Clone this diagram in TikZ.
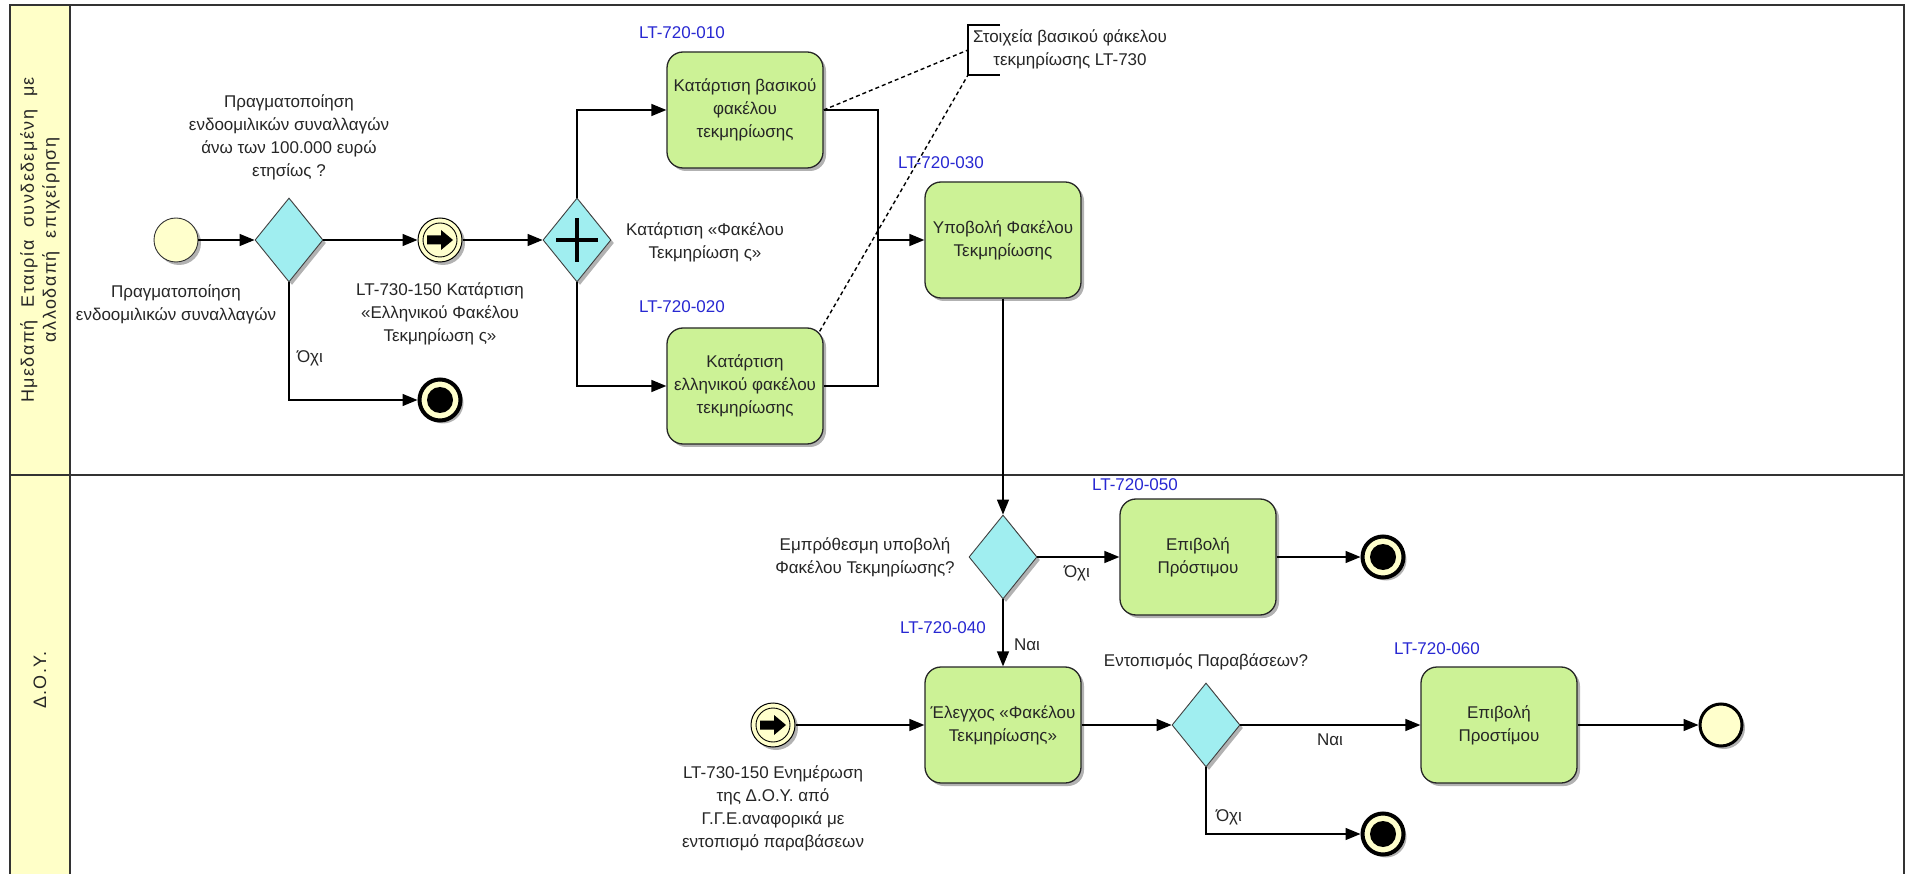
\documentclass[tikz,border=0pt]{standalone}
\usepackage{fontspec}
\setmainfont{Liberation Sans}
\usetikzlibrary{shapes.geometric,arrows.meta,shadows}
\definecolor{lanefill}{RGB}{255,255,200}
\definecolor{evfill}{RGB}{255,255,204}
\definecolor{gwfill}{RGB}{160,238,240}
\definecolor{taskfill}{RGB}{204,242,150}
\definecolor{codeblue}{RGB}{40,40,210}
\begin{document}
\begin{tikzpicture}[x=1pt,y=-1pt,
  font=\fontsize{17}{23}\selectfont,
  shadowed/.style={drop shadow={shadow xshift=3pt,shadow yshift=-3pt,opacity=0.3,fill=black}},
  task/.style={rectangle, rounded corners=16pt, draw=black!85, line width=1.3pt, fill=taskfill,
    minimum width=156pt, minimum height=116pt, align=center, inner sep=2pt, text=black!85, shadowed},
  gw/.style={diamond, draw=black!75, line width=0.9pt, fill=gwfill, minimum width=68pt,
    minimum height=84pt, inner sep=0pt, shadowed},
  startev/.style={circle, draw=black!80, line width=0.9pt, fill=evfill, minimum size=44pt,
    inner sep=0pt, shadowed},
  endev/.style={circle, draw=black, line width=4pt, fill=evfill, minimum size=41pt, inner sep=0pt,
    shadowed, path picture={\fill[black] (path picture bounding box.center) circle[radius=13pt];}},
  finalev/.style={circle, draw=black, line width=3pt, fill=evfill, minimum size=42pt, inner sep=0pt, shadowed},
  linkev/.style={circle, draw=black, line width=1pt, fill=evfill, minimum size=44pt, inner sep=0pt, shadowed,
    path picture={
      \draw[black, line width=0.9pt] (path picture bounding box.center) circle[radius=17pt];
      \fill[black, shift={(path picture bounding box.center)}]
        (-13pt,-4.5pt) -- (1pt,-4.5pt) -- (1pt,-10pt) -- (13pt,0pt) -- (1pt,10pt) -- (1pt,4.5pt) -- (-13pt,4.5pt) -- cycle;}},
  plusgw/.style={gw, path picture={\draw[black, line width=4.5pt, shift={(path picture bounding box.center)}]
      (-21pt,0pt) -- (21pt,0pt) (0pt,-22pt) -- (0pt,22pt);}},
  flow/.style={draw=black, line width=1.4pt, -{Triangle[length=15pt,width=12pt]}},
  plain/.style={draw=black, line width=1.4pt},
  assoc/.style={draw=black, line width=1.4pt, dash pattern=on 4pt off 3pt},
  code/.style={text=codeblue, inner sep=0pt},
  lbl/.style={align=center, inner sep=0pt, text=black!85},
  lanelbl/.style={rotate=90, align=center, inner sep=0pt, text=black!85,
    font=\fontsize{18}{22}\selectfont\addfontfeature{LetterSpace=8}},
]
\useasboundingbox (0,0) rectangle (1907,874);
\fill[white] (0,0) rectangle (1907,874);

% pools and lanes
\fill[lanefill] (10,5) rectangle (70,880);
\draw[line width=1.5pt, draw=black!80] (10,5) rectangle (1904,880);
\draw[line width=1.5pt, draw=black!80] (70,5) -- (70,880);
\draw[line width=1.5pt, draw=black!80] (10,475) -- (1904,475);
\node[lanelbl] (lane1) at (40,240) {Ημεδαπή\ \ Εταιρία\ \ συνδεδεμένη\ \ με\\αλλοδαπή\ \ επιχείρηση};
\node[lanelbl] (lane2) at (40,680) {Δ.Ο.Υ.};

% top lane
\node[startev] (S) at (176,240) {};
\node[gw] (G1) at (289,240) {};
\node[linkev] (L1) at (440,240) {};
\node[endev] (E1) at (440,400) {};
\node[plusgw] (PG) at (577,240) {};
\node[task] (T1) at (745,110) {Κατάρτιση βασικού\\φακέλου\\τεκμηρίωσης};
\node[task] (T2) at (745,386) {Κατάρτιση\\ελληνικού φακέλου\\τεκμηρίωσης};
\node[task] (T3) at (1003,240) {Υποβολή Φακέλου\\Τεκμηρίωσης};
\coordinate (M) at (878,240);

% bottom lane
\node[gw] (G2) at (1003,557) {};
\node[task] (T5) at (1198,557) {Επιβολή\\Πρόστιμου};
\node[endev] (E2) at (1383,557) {};
\node[linkev] (L2) at (773,725) {};
\node[task] (T4) at (1003,725) {Έλεγχος «Φακέλου\\Τεκμηρίωσης»};
\node[gw] (G3) at (1206,725) {};
\node[task] (T6) at (1499,725) {Επιβολή\\Προστίμου};
\node[finalev] (E4) at (1721,725) {};
\node[endev] (E3) at (1383,834) {};

% annotation
\coordinate (Amid) at (968,50);
\coordinate (Abot) at (968,75);
\draw[plain] (1000,25) -- (968,25) -- (968,75) -- (1000,75);
\node[lbl] (A) at (1070,49) {Στοιχεία βασικού φάκελου\\τεκμηρίωσης LT-730};

% sequence flows
\draw[flow] (S) -- (G1);
\draw[flow] (G1) -- (L1);
\draw[flow] (G1.south) |- (E1);
\draw[flow] (L1) -- (PG);
\draw[flow] (PG.north) |- (T1);
\draw[flow] (PG.south) |- (T2);
\draw[plain] (T1.east) -| (M);
\draw[plain] (T2.east) -| (M);
\draw[flow] (M) -- (T3);
\draw[flow] (T3) -- (G2);
\draw[flow] (G2) -- (T5);
\draw[flow] (T5) -- (E2);
\draw[flow] (G2) -- (T4);
\draw[flow] (L2) -- (T4);
\draw[flow] (T4) -- (G3);
\draw[flow] (G3) -- (T6);
\draw[flow] (T6) -- (E4);
\draw[flow] (G3.south) |- (E3);

% associations
\draw[assoc] (T1.east) -- (Amid);
\draw[assoc] ([xshift=-4pt,yshift=-4pt]T2.north east) -- (Abot);

% codes
\node[code] (c010) at (682,33) {LT-720-010};
\node[code] (c020) at (682,307) {LT-720-020};
\node[code] (c030) at (941,163) {LT-720-030};
\node[code] (c050) at (1135,485) {LT-720-050};
\node[code] (c040) at (943,628) {LT-720-040};
\node[code] (c060) at (1437,649) {LT-720-060};

% labels
\node[lbl] (tS) at (176,304) {Πραγματοποίηση\\ενδοομιλικών συναλλαγών};
\node[lbl] (tG1) at (289,137) {Πραγματοποίηση\\ενδοομιλικών συναλλαγών\\άνω των 100.000 ευρώ\\ετησίως ?};
\node[lbl] (tL1) at (440,314) {LT-730-150 Κατάρτιση\\«Ελληνικού Φακέλου\\Τεκμηρίωση ς»};
\node[lbl] (no1) at (310,358) {Όχι};
\node[lbl] (tPG) at (705,242) {Κατάρτιση «Φακέλου\\Τεκμηρίωση ς»};
\node[lbl] (tG2) at (865,557) {Εμπρόθεσμη υποβολή\\Φακέλου Τεκμηρίωσης?};
\node[lbl] (no2) at (1077,573) {Όχι};
\node[lbl] (yes1) at (1027,645) {Ναι};
\node[lbl] (tG3) at (1206,662) {Εντοπισμός Παραβάσεων?};
\node[lbl] (yes2) at (1330,740) {Ναι};
\node[lbl] (no3) at (1229,817) {Όχι};
\node[lbl] (tL2) at (773,808) {LT-730-150 Ενημέρωση\\της Δ.Ο.Υ. από\\Γ.Γ.Ε.αναφορικά με\\εντοπισμό παραβάσεων};
\end{tikzpicture}
\end{document}
